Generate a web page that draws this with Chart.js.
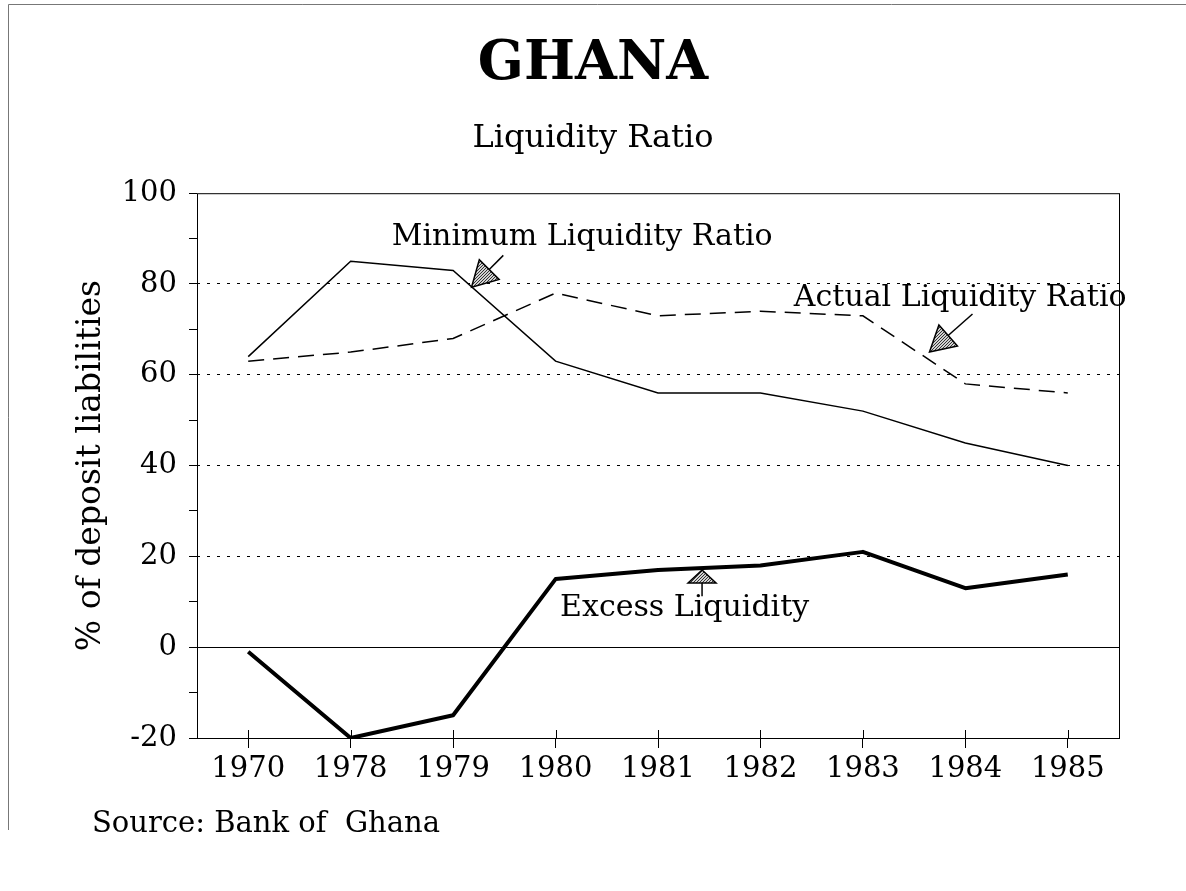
<!DOCTYPE html>
<html>
<head>
<meta charset="utf-8">
<style>
  html, body { margin: 0; padding: 0; background: #fff; }
  #wrap { width: 1186px; height: 891px; }
</style>
<script src="https://cdn.jsdelivr.net/npm/chart.js@4/dist/chart.umd.min.js"></script>
</head>
<body>
<div id="wrap"><canvas id="myChart" width="1186" height="891"></canvas></div>
<script>
// data
var years = ['1970', '1978', '1979', '1980', '1981', '1982', '1983', '1984', '1985'];
var minimumRatio = [64, 85, 83, 63, 56, 56, 52, 45, 40];
var actualRatio = [63, 65, 68, 78, 73, 74, 73, 58, 56];
var excessLiquidity = [-1, -20, -15, 15, 17, 18, 21, 13, 16];

var yMin = -20, yMax = 100, yStep = 10;

// call-out labels, in category index / value units
var notes = [
  { text: 'Minimum Liquidity Ratio', at: [3.26, 90.2], tail: [2.49, 86.3], tip: [2.18, 79.3] },
  { text: 'Actual Liquidity Ratio', at: [6.95, 76.8], tail: [7.07, 73.4], tip: [6.65, 65.0] },
  { text: 'Excess Liquidity', at: [4.26, 8.6], tail: [4.43, 11.2], tip: [4.43, 17.0] }
];

var serif = "'DejaVu Serif', 'Liberation Serif', serif";

function stipple(ctx) {
  var c = document.createElement('canvas');
  c.width = 3; c.height = 3;
  var p = c.getContext('2d');
  p.fillStyle = '#d0d0d0';
  p.fillRect(0, 0, 3, 3);
  p.fillStyle = '#333';
  p.fillRect(0, 0, 1, 1);
  p.fillRect(1, 2, 1, 1);
  p.fillRect(2, 1, 1, 1);
  return ctx.createPattern(c, 'repeat');
}

var calloutPlugin = {
  id: 'callouts',
  afterDatasetsDraw: function (chart) {
    var ctx = chart.ctx;
    var xs = chart.scales.x, ys = chart.scales.y;
    var area = chart.chartArea;
    ctx.save();

    // plot frame
    ctx.strokeStyle = '#000';
    ctx.lineWidth = 1;
    ctx.setLineDash([]);
    ctx.strokeRect(area.left + 0.5, area.top + 0.5, area.right - area.left, area.bottom - area.top);

    // small ticks crossing the x axis
    ctx.beginPath();
    years.forEach(function (y, i) {
      var x = Math.round(xs.getPixelForValue(i)) + 0.5;
      ctx.moveTo(x, area.bottom - 8);
      ctx.lineTo(x, area.bottom);
    });
    ctx.stroke();

    // page frame
    ctx.strokeStyle = '#777';
    ctx.beginPath();
    ctx.moveTo(8.5, 830);
    ctx.lineTo(8.5, 4.5);
    ctx.lineTo(1186, 4.5);
    ctx.stroke();

    var fill = stipple(ctx);
    notes.forEach(function (n) {
      var tx = xs.getPixelForValue(n.tail[0]), ty = ys.getPixelForValue(n.tail[1]);
      var px = xs.getPixelForValue(n.tip[0]), py = ys.getPixelForValue(n.tip[1]);
      var ang = Math.atan2(py - ty, px - tx);
      var len = 25, half = 14;
      if (n.text === 'Excess Liquidity') { len = 13; half = 14; }
      var bx = px - Math.cos(ang) * len, by = py - Math.sin(ang) * len;

      ctx.strokeStyle = '#000';
      ctx.lineWidth = 1.5;
      ctx.beginPath();
      ctx.moveTo(tx, ty);
      ctx.lineTo(bx, by);
      ctx.stroke();

      ctx.beginPath();
      ctx.moveTo(px, py);
      ctx.lineTo(bx + Math.sin(ang) * half, by - Math.cos(ang) * half);
      ctx.lineTo(bx - Math.sin(ang) * half, by + Math.cos(ang) * half);
      ctx.closePath();
      ctx.fillStyle = fill;
      ctx.fill();
      ctx.lineWidth = 1.5;
      ctx.stroke();

      ctx.fillStyle = '#000';
      ctx.font = '30px ' + serif;
      ctx.textAlign = 'center';
      ctx.textBaseline = 'middle';
      ctx.fillText(n.text, xs.getPixelForValue(n.at[0]), ys.getPixelForValue(n.at[1]));
    });

    // source note
    ctx.font = '29px ' + serif;
    ctx.textAlign = 'left';
    ctx.textBaseline = 'middle';
    ctx.fillStyle = '#000';
    ctx.fillText('Source: Bank of  Ghana', 92, 824);
    ctx.restore();
  }
};

var ctx1 = document.getElementById('myChart').getContext('2d');
var chart1 = new Chart(ctx1, {
  type: 'line',
  data: {
    labels: years,
    datasets: [{
      label: 'Minimum Liquidity Ratio',
      data: minimumRatio,
      borderColor: '#000',
      borderWidth: 1.5,
      pointRadius: 0,
      tension: 0,
      fill: false
    }, {
      label: 'Actual Liquidity Ratio',
      data: actualRatio,
      borderColor: '#000',
      borderWidth: 1.5,
      borderDash: [16, 9],
      pointRadius: 0,
      tension: 0,
      fill: false
    }, {
      label: 'Excess Liquidity',
      data: excessLiquidity,
      borderColor: '#000',
      borderWidth: 4,
      borderJoinStyle: 'round',
      pointRadius: 0,
      tension: 0,
      fill: false
    }]
  },
  options: {
    responsive: false,
    animation: false,
    layout: { padding: { left: 67, right: 67, top: 0, bottom: 0 } },
    plugins: {
      legend: { display: false },
      tooltip: { enabled: false },
      title: {
        display: true,
        text: 'GHANA',
        color: '#000',
        font: { family: serif, size: 54, weight: 'bold', lineHeight: 1.2 },
        padding: { top: 33, bottom: 22 }
      },
      subtitle: {
        display: true,
        text: 'Liquidity Ratio',
        color: '#000',
        font: { family: serif, size: 32, lineHeight: 1.2 },
        padding: { top: 0, bottom: 35 }
      }
    },
    scales: {
      x: {
        type: 'category',
        offset: true,
        grid: {
          offset: false,
          drawOnChartArea: false,
          drawTicks: true,
          tickLength: 10,
          color: '#000'
        },
        border: { display: false },
        ticks: {
          color: '#000',
          padding: 4,
          maxRotation: 0,
          font: { family: serif, size: 29 }
        },
        afterFit: function (scale) { scale.height = 153; }
      },
      y: {
        min: yMin,
        max: yMax,
        border: {
          display: false,
          dash: function (c) { return (c.tick && c.tick.value !== 0) ? [3, 7] : []; }
        },
        grid: {
          lineWidth: 1,
          tickLength: 8,
          tickColor: '#000',
          color: function (c) {
            if (!c.tick) return '#000';
            var v = c.tick.value;
            if (v === yMin || v === yMax || v % 20 !== 0) return 'rgba(0,0,0,0)';
            return '#000';
          }
        },
        ticks: {
          stepSize: yStep,
          color: '#000',
          padding: 12,
          font: { family: serif, size: 29 },
          callback: function (v) { return v % 20 === 0 ? v : ''; }
        },
        title: {
          display: true,
          text: '% of deposit liabilities',
          color: '#000',
          font: { family: serif, size: 33 },
          padding: { top: 5, bottom: 0 }
        },
        afterFit: function (scale) { scale.width = 130; }
      }
    }
  },
  plugins: [calloutPlugin]
});
</script>
</body>
</html>
